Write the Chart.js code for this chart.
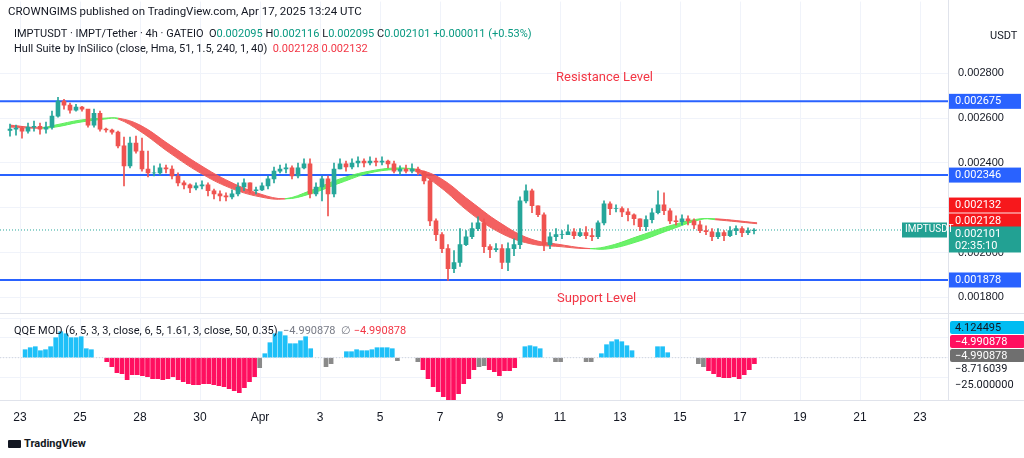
<!DOCTYPE html>
<html>
<head>
<meta charset="utf-8">
<script src="https://cdn.jsdelivr.net/npm/chart.js@4.4.1/dist/chart.umd.min.js"></script>
<style>
  body { margin: 0; background: #fff; font-family: Roboto, 'Open Sans', sans-serif; }
  #wrap { position: relative; width: 1024px; height: 458px; overflow: hidden; }
  .abs { position: absolute; white-space: nowrap; }
  .hdr { font-size: 11px; color: #131722; }
  .tag { position: absolute; left: 950px; width: 70px; height: 13px; font-size: 11px; color: #fff; padding-left: 5px; line-height: 13px; border-radius: 2px; }
  .lbl { position: absolute; left: 955px; font-size: 11px; color: #131722; }
</style>
</head>
<body>
<div id="wrap">
  <div style="position:absolute;left:0;top:-15px;width:1024px;height:345px"><canvas id="priceChart"></canvas></div>
  <div style="position:absolute;left:0;top:313px;width:1024px;height:117px;background:#fff"><canvas id="qqeChart"></canvas></div>

  <div class="abs hdr" style="left:8px;top:4px;font-size:11.5px">CROWNGIMS published on TradingView.com, Apr 17, 2025 13:24 UTC</div>
  <div class="abs hdr" style="left:14px;top:27px">IMPTUSDT · IMPT/Tether · 4h · GATEIO &nbsp;O<span style="color:#089981">0.002095</span> H<span style="color:#089981">0.002116</span> L<span style="color:#089981">0.002095</span> C<span style="color:#089981">0.002101</span> <span style="color:#089981">+0.000011 (+0.53%)</span></div>
  <div class="abs hdr" style="left:14px;top:42px">Hull Suite by InSilico (close, Hma, 51, 1.5, 240, 1, 40) &nbsp;<span style="color:#f23645">0.002128</span> <span style="color:#f23645">0.002132</span></div>
  <div class="abs" style="left:556px;top:69px;font-size:13px;color:#f23645">Resistance Level</div>
  <div class="abs" style="left:557px;top:290px;font-size:13px;color:#f23645">Support Level</div>
  <div class="abs hdr" style="left:990px;top:29px">USDT</div>
  <div class="abs hdr" style="left:14px;top:324px">QQE MOD (6, 5, 3, 3, close, 6, 5, 1.61, 3, close, 50, 0.35) &nbsp;<span style="color:#787b86">−4.990878 &nbsp;∅</span> <span style="color:#f23645">−4.990878</span></div>

  <div class="tag" style="top:321px;background:#00bcf2;color:#131722">4.124495</div>
  <div class="tag" style="top:335px;background:#ff0f5f">−4.990878</div>
  <div class="tag" style="top:349px;background:#6f6f6f">−4.990878</div>
  <div class="lbl" style="top:362px">−8.716039</div>
  <div class="lbl" style="top:378px">−25.000000</div>

  <div class="abs" style="left:8px;top:437px;font-size:11px;font-weight:bold;color:#131722">
    <span style="display:inline-block;width:13px;height:8px;background:#131722;border-radius:1px;margin-right:3px;vertical-align:middle"></span>TradingView
  </div>
</div>
<script>
// candles, 4h, open = previous close
const candleStart = -1 / 3;
const candleStep = 0.2;
const firstOpen = 0.002545;
const closes = [
  2551,2556,2542,2560,2564,2551,2560,2609,2676,2658,
  2636,2649,2640,2569,2622,2551,2547,2538,2476,2387,
  2489,2453,2373,2356,2356,2378,2373,2342,2311,2302,
  2289,2298,2302,2276,2262,2253,2249,2262,2293,2311,
  2276,2280,2298,2329,2364,2373,2378,2342,2378,2396,
  2262,2293,2329,2262,2373,2396,2382,2400,2409,2400,
  2409,2404,2409,2396,2364,2373,2364,2373,2360,2320,
  2142,2080,2018,1929,1956,2036,2071,2107,2133,2027,
  2013,2018,1956,2018,2036,2231,2276,2209,2169,2036,
  2071,2080,2080,2093,2076,2089,2076,2071,2133,2218,
  2196,2196,2182,2169,2151,2116,2147,2178,2213,2187,
  2142,2138,2151,2142,2124,2098,2093,2071,2089,2076,
  2098,2107,2089,2098,2101
];
const highs = [
  2573,2569,2564,2578,2587,2578,2582,2631,2693,2684,
  2667,2662,2653,2587,2640,2631,2556,2551,2542,2516,
  2516,2520,2511,2453,2387,2396,2391,2387,2356,2320,
  2307,2311,2320,2311,2284,2276,2267,2280,2311,2329,
  2311,2293,2311,2342,2382,2391,2396,2387,2400,2418,
  2418,2311,2342,2342,2400,2418,2409,2418,2427,2418,
  2427,2422,2427,2413,2409,2387,2391,2396,2382,2364,
  2329,2151,2089,2036,2009,2107,2098,2133,2160,2151,
  2036,2040,2036,2044,2062,2249,2302,2284,2209,2178,
  2089,2107,2098,2124,2107,2107,2116,2107,2142,2231,
  2227,2213,2204,2196,2173,2151,2164,2196,2276,2267,
  2196,2164,2169,2164,2151,2142,2120,2107,2107,2098,
  2116,2120,2116,2111,2107
];
const lows = [
  2520,2524,2511,2533,2542,2529,2533,2551,2604,2640,
  2622,2631,2631,2560,2560,2542,2538,2529,2467,2298,
  2378,2444,2364,2338,2342,2347,2356,2329,2298,2284,
  2267,2280,2284,2253,2240,2231,2231,2240,2253,2276,
  2267,2262,2276,2284,2311,2356,2356,2329,2333,2373,
  2244,2253,2231,2164,2249,2373,2364,2373,2382,2382,
  2391,2387,2391,2378,2356,2347,2356,2356,2347,2307,
  2120,2053,2000,1876,1911,1938,2031,2062,2098,2000,
  1978,2004,1929,1920,1987,2018,2222,2178,2160,2009,
  2018,2053,2062,2080,2062,2071,2062,2053,2062,2124,
  2169,2182,2160,2142,2124,2098,2098,2133,2173,2169,
  2129,2124,2124,2124,2107,2089,2080,2053,2062,2053,
  2071,2080,2071,2080,2084
];

// Hull Suite band (MHULL / SHULL)
const hullX = [-0.33,0.67,1.17,2,2.83,3.27,4,5,6,7,8,8.83,9.67,10.67,11.67,12.67,13.17,14,15,16,17,18,19,19.67,20.67,21.67,22.67,23.17,24.57];
const hullA = [2560,2556,2569,2591,2600,2596,2542,2444,2356,2289,2249,2240,2276,2329,2364,2378,2364,2293,2178,2089,2040,2027,2018,2031,2076,2120,2151,2147,2129];
const hullB = [2569,2556,2560,2582,2596,2600,2569,2480,2391,2316,2262,2240,2262,2311,2356,2373,2373,2333,2231,2133,2062,2036,2018,2018,2053,2102,2147,2151,2133];

const resistance = [0.002675, 0.002346];
const support = 0.001878;
const lastPrice = 0.002101;
const priceTicks = [0.0018, 0.002, 0.0024, 0.0026, 0.0028];

const dateTicks = [0,2,4,6,8,10,12,14,16,18,20,22,24,26,28,30];
const dateLabels = ['23','25','28','30','Apr','3','5','7','9','11','13','15','17','19','21','23'];

// QQE MOD histogram: b = blue, r = red, g = gray, 0 = no bar
const qqeStart = 0.17;
const qqeStep = 0.17;
const qqeValues = [
  8,10,11,7,8,11,20,26,24,20, 20,21,9,8,0,0,-4,-9,-15,-16,
  -22,-17,-17,-18,-19,-21,-21,-22,-21,-19, -22,-24,-26,-27,-27,-26,-26,-27,-28,-29,
  -31,-33,-35,-30,-24,-19,-10,4,15,24, 26,22,14,14,17,21,9,0,0,-9,
  -6,0,0,6,6,8,7,7,8,10, 10,10,9,-3,0,0,0,-4,-12,-21,
  -29,-34,-39,-42,-42,-36,-26,-21,-12,-9, -8,-12,-14,-18,-13,-13,-10,0,11,12,
  11,9,0,0,-4,-4,0,0,0,0, -4,-4,0,4,13,16,18,16,12,7,
  0,0,0,0,11,11,5,0,0,0, 0,0,-6,-9,-13,-16,-19,-20,-20,-19,
  -21,-17,-12,-6
];
const qqeKind =
  'bbbbbbbbbbbbbb00rrrr' +
  'rrrrrrrrrrrrrrrrrrrr' +
  'rrrrrrgbbbbbbbbbb00g' +
  'g00bbbbbbbbbbg000grr' +
  'rrrrrrrrrggrrrrrr0bb' +
  'bb00gg0000gg0bbbbbbb' +
  '0000bbb00000ggrrrrrr' +
  'rrrr';

const GREEN = '#26a69a', RED = '#ef5350';
const U = 1e-6;

const bodies = [], wicks = [], candleColors = [];
closes.forEach((c, i) => {
  const x = candleStart + i * candleStep;
  const o = i === 0 ? firstOpen : closes[i - 1] * U;
  const cl = c * U;
  bodies.push({ x: x, y: [o, cl] });
  wicks.push({ x: x, y: [lows[i] * U, highs[i] * U] });
  candleColors.push(cl >= o ? GREEN : RED);
});

const X_MIN = -0.6667, X_MAX = 30.933;
const hline = v => [{ x: X_MIN, y: v }, { x: X_MAX, y: v }];

const priceTags = [
  { value: 0.002675, text: '0.002675', bg: '#2962ff', dy: 0 },
  { value: 0.002346, text: '0.002346', bg: '#2962ff', dy: 0 },
  { value: 0.001878, text: '0.001878', bg: '#2962ff', dy: 0 },
  { value: 0.002132, text: '0.002132', bg: '#f7181c', dy: -18 },
  { value: 0.002128, text: '0.002128', bg: '#f7181c', dy: -3 },
  { value: 0.002101, text: '0.002101', bg: '#22a193', dy: 4, sub: '02:35:10' }
];

const tagPlugin = {
  id: 'tags',
  afterDraw(chart) {
    const { ctx, chartArea } = chart;
    const y = chart.scales.y;
    ctx.save();
    ctx.font = '11px Roboto, sans-serif';
    ctx.textBaseline = 'middle';
    priceTags.forEach(t => {
      const py = y.getPixelForValue(t.value) + t.dy;
      const h = t.sub ? 26 : 15;
      ctx.fillStyle = t.bg;
      ctx.fillRect(949, py - 7.5, 72, h);
      ctx.fillStyle = '#fff';
      ctx.fillText(t.text, 955, py);
      if (t.sub) ctx.fillText(t.sub, 955, py + 12);
    });
    const lp = y.getPixelForValue(lastPrice);
    ctx.fillStyle = '#22a193';
    ctx.fillRect(902, lp - 7.5, 45, 15);
    ctx.fillStyle = '#fff';
    ctx.font = '10px Roboto, sans-serif';
    ctx.fillText('IMPTUSDT', 905, lp);
    ctx.strokeStyle = '#e0e3eb';
    ctx.lineWidth = 1;
    ctx.beginPath();
    ctx.moveTo(948.5, 0); ctx.lineTo(948.5, chartArea.bottom);
    ctx.stroke();
    ctx.restore();
  }
};

const xAxisCommon = {
  type: 'linear',
  min: X_MIN,
  max: X_MAX,
  offset: false,
  afterBuildTicks: axis => { axis.ticks = dateTicks.map(v => ({ value: v })); },
  grid: { color: '#f0f3fa', drawTicks: false, offset: false },
  border: { display: false }
};

new Chart(document.getElementById('priceChart'), {
  type: 'bar',
  data: {
    datasets: [
      { type: 'line', data: hline(resistance[0]), borderColor: '#2962ff', borderWidth: 2, pointRadius: 0, order: 5 },
      { type: 'line', data: hline(resistance[1]), borderColor: '#2962ff', borderWidth: 2, pointRadius: 0, order: 5 },
      { type: 'line', data: hline(support), borderColor: '#2962ff', borderWidth: 2, pointRadius: 0, order: 5 },
      { type: 'line', data: hline(lastPrice), borderColor: '#26a69a', borderWidth: 1, borderDash: [1, 2], pointRadius: 0, order: 5 },
      {
        type: 'line', data: hullX.map((x, i) => ({ x: x, y: hullA[i] * U })),
        borderWidth: 1, pointRadius: 0, tension: 0.4, order: 4,
        segment: { borderColor: c => hullA[c.p0DataIndex] >= hullB[c.p0DataIndex] ? '#5cf05c' : '#f25c5c' }
      },
      {
        type: 'line', data: hullX.map((x, i) => ({ x: x, y: hullB[i] * U })),
        borderWidth: 1, pointRadius: 0, tension: 0.4, order: 4,
        segment: { borderColor: c => hullA[c.p0DataIndex] >= hullB[c.p0DataIndex] ? '#5cf05c' : '#f25c5c' },
        fill: { target: 4, above: 'rgba(242,80,80,0.9)', below: 'rgba(80,240,80,0.85)' }
      },
      { data: wicks, backgroundColor: candleColors, barThickness: 1, grouped: false, order: 2 },
      { data: bodies, backgroundColor: candleColors, barThickness: 4, grouped: false, order: 1 }
    ]
  },
  options: {
    responsive: true,
    maintainAspectRatio: false,
    animation: false,
    layout: { padding: 0 },
    plugins: { legend: { display: false }, tooltip: { enabled: false } },
    scales: {
      x: { ...xAxisCommon, afterFit: s => { s.height = 0; }, ticks: { display: false } },
      y: {
        position: 'right',
        min: 0.0017289,
        max: 0.00312,
        afterFit: s => { s.width = 76; },
        afterBuildTicks: axis => { axis.ticks = [0.0018, 0.002, 0.0022, 0.0024, 0.0026, 0.0028].map(v => ({ value: v })); },
        grid: { color: '#f0f3fa', drawTicks: false },
        border: { display: false },
        ticks: {
          color: '#131722', font: { size: 11 }, padding: 10,
          callback: v => priceTicks.some(p => Math.abs(p - v) < 1e-9) ? v.toFixed(6) : ''
        }
      }
    }
  },
  plugins: [tagPlugin]
});

const qqeColors = { b: '#1ec0f8', r: '#ff0f5f', g: '#8a8a8a', '0': 'rgba(0,0,0,0)' };
const qqeData = qqeValues.map((v, i) => ({ x: qqeStart + i * qqeStep, y: v }));

new Chart(document.getElementById('qqeChart'), {
  type: 'bar',
  data: {
    datasets: [
      { type: 'line', data: hline(0), borderColor: '#d1d4dc', borderWidth: 1, borderDash: [1, 2], pointRadius: 0 },
      { data: qqeData, backgroundColor: qqeValues.map((v, i) => qqeColors[qqeKind[i]] || '#8a8a8a'), barThickness: 4 }
    ]
  },
  options: {
    responsive: true,
    maintainAspectRatio: false,
    animation: false,
    layout: { padding: { top: 5 } },
    plugins: { legend: { display: false }, tooltip: { enabled: false } },
    scales: {
      x: {
        ...xAxisCommon,
        afterFit: s => { s.height = 30; },
        ticks: { color: '#131722', font: { size: 12 }, padding: 10, maxRotation: 0, autoSkip: false,
          callback: (v, i) => dateLabels[i] }
      },
      y: {
        position: 'right', min: -42.3, max: 39.7,
        afterFit: s => { s.width = 76; },
        grid: { color: '#f0f3fa', drawTicks: false },
        border: { display: false },
        ticks: { display: false }
      }
    }
  },
  plugins: [{
    id: 'frame',
    afterDraw(chart) {
      const { ctx } = chart;
      ctx.save();
      ctx.strokeStyle = '#e0e3eb';
      ctx.beginPath();
      ctx.moveTo(0, 0.5); ctx.lineTo(1024, 0.5);
      ctx.moveTo(948.5, 0); ctx.lineTo(948.5, 87);
      ctx.moveTo(0, 87.5); ctx.lineTo(1024, 87.5);
      ctx.stroke();
      ctx.restore();
    }
  }]
});
</script>
</body>
</html>
